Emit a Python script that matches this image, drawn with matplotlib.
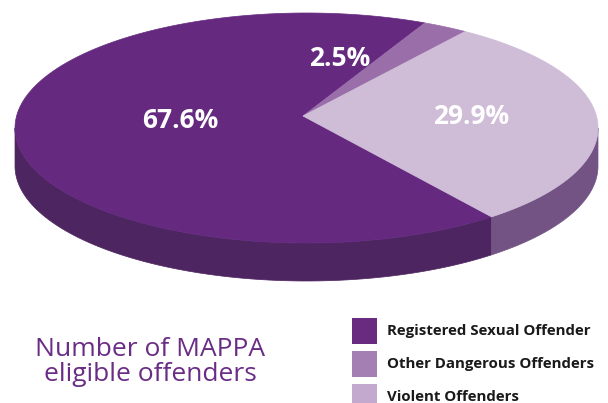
import numpy as np
import matplotlib
matplotlib.use("Agg")
import matplotlib.pyplot as plt
from matplotlib.patches import Polygon, Rectangle

plt.rcParams['font.family'] = ['Open Sans', 'DejaVu Sans']

# data
categories = ['Registered Sexual Offender', 'Other Dangerous Offenders', 'Violent Offenders']
shares = [67.6, 2.5, 29.9]
labels = ['67.6%', '2.5%', '29.9%']

top_colors = ['#652a80', '#9a6fa9', '#cfbdd8']
side_colors = ['#4d2560', '#6f4a80', '#735384']
legend_colors = ['#682b7f', '#a37fb3', '#c3a9cd']
label_pos = [(180, 121), (340, 58), (471, 117)]

# ellipse geometry (pixel space)
cx, cy = 306.5, 128
rx, ry = 291.5, 115
apex = (303, 116)
depth = 38
start = -50.6  # angle of first wedge start, going clockwise

fig = plt.figure(figsize=(6.08, 4.03), dpi=100)
ax = fig.add_axes([0, 0, 1, 1])
ax.set_xlim(0, 608)
ax.set_ylim(403, 0)
ax.axis('off')


def pt(a, dy=0):
    r = np.radians(a)
    return cx + rx * np.cos(r), cy - ry * np.sin(r) + dy


# wedge angle ranges (clockwise from start)
angles = []
a0 = start
for s in shares:
    a1 = a0 - s * 3.6
    angles.append((a1, a0))
    a0 = a1

# sides: only the front half (angles in -180..0, modulo 360)
for (lo, hi), col in zip(angles, side_colors):
    for k in (-1, 0, 1):
        s_lo = max(lo, -180 + 360 * k)
        s_hi = min(hi, 0 + 360 * k)
        if s_hi <= s_lo:
            continue
        t = np.linspace(s_lo, s_hi, 120)
        top = np.array([pt(a) for a in t])
        bot = np.array([pt(a, depth) for a in t[::-1]])
        ax.add_patch(Polygon(np.vstack([top, bot]), closed=True, fc=col, ec=col, lw=0.5))

# top face
for (lo, hi), col in zip(angles, top_colors):
    t = np.linspace(lo, hi, 300)
    arc = np.array([pt(a) for a in t])
    ax.add_patch(Polygon(np.vstack([[apex], arc]), closed=True, fc=col, ec=col, lw=0.5))

for txt, (x, y) in zip(labels, label_pos):
    ax.text(x, y, txt, color='white', fontsize=19, fontweight='bold',
            ha='center', va='center')

# title
ax.text(150, 362, 'Number of MAPPA\neligible offenders', color='#6a2c85',
        fontsize=19, ha='center', va='center', linespacing=0.95)

# legend
for i, (name, col) in enumerate(zip(categories, legend_colors)):
    y = 318 + i * 33
    ax.add_patch(Rectangle((352, y), 25, 26, fc=col, ec='none'))
    ax.text(387, y + 13, name, color='#1a1a1a', fontsize=10.8, fontweight='bold',
            ha='left', va='center')

fig.savefig('out.png', dpi=100)
